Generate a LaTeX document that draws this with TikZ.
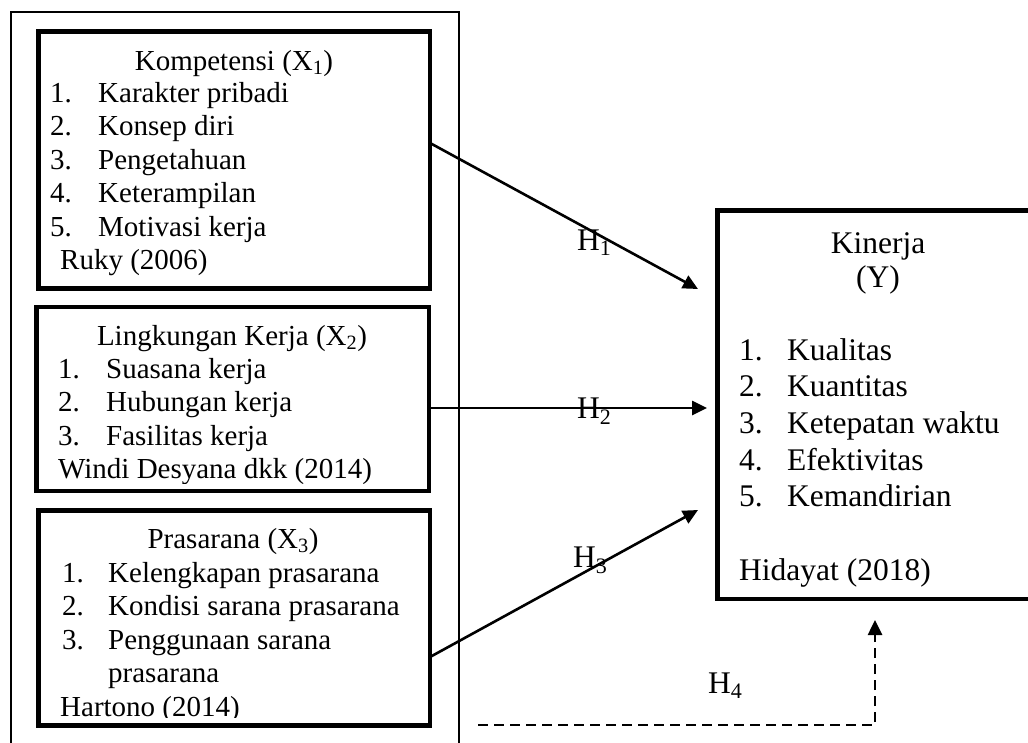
\documentclass[tikz,border=0pt]{standalone}
\usepackage{fontspec}
\setmainfont{Liberation Serif}
\usetikzlibrary{positioning, arrows.meta}

\begin{document}
\begin{tikzpicture}[x=1pt, y=-1pt,
    thickbox/.style={draw, line width=4.5pt, outer sep=0pt, inner sep=0pt, anchor=north west},
    lefttext/.style={inner sep=0pt, font=\fontsize{29}{33.5}\selectfont},
    righttext/.style={inner sep=0pt, font=\fontsize{31.5}{36.7}\selectfont},
    hlabel/.style={inner sep=0pt, anchor=base west, font=\fontsize{31.5}{36}\selectfont}]
    \useasboundingbox (0,0) rectangle (1028,742);

    % Define nodes
    \node[draw, line width=2pt, outer sep=0pt, inner sep=0pt, anchor=north west,
        minimum width=448pt, minimum height=760pt] (Group) at (10.5, 12) {};
    \node[thickbox, minimum width=391.5pt, minimum height=257pt] (Kompetensi) at (38.5, 31.5) {};
    \node[thickbox, minimum width=392.5pt, minimum height=184pt] (Lingkungan) at (36.5, 307) {};
    \node[thickbox, minimum width=391.5pt, minimum height=215pt] (Prasarana) at (38.5, 510.5) {};
    \node[thickbox, minimum width=400pt, minimum height=388.5pt] (Kinerja) at (717.5, 210.5) {};

    % Texts in the boxes
    \node[lefttext, anchor=base] (KompetensiTitle) at (234, 70) {Kompetensi (X\textsubscript{1})};
    \node[lefttext, anchor=base west] (KompetensiList) at (50, 102) {%
        \begin{tabular}[t]{@{}p{48pt}@{}l@{}}
        1. & Karakter pribadi\\
        2. & Konsep diri\\
        3. & Pengetahuan\\
        4. & Keterampilan\\
        5. & Motivasi kerja\\
        \multicolumn{2}{@{\hspace{10pt}}l@{}}{Ruky (2006)}
        \end{tabular}};

    \node[lefttext, anchor=base] (LingkunganTitle) at (232, 345) {Lingkungan Kerja (X\textsubscript{2})};
    \begin{scope}
        \clip (36.5, 350) rectangle (429, 483);
        \node[lefttext, anchor=base west] (LingkunganList) at (58, 378) {%
            \begin{tabular}[t]{@{}p{48pt}@{}l@{}}
            1. & Suasana kerja\\
            2. & Hubungan kerja\\
            3. & Fasilitas kerja\\
            \multicolumn{2}{@{}l@{}}{Windi Desyana dkk (2014)}
            \end{tabular}};
    \end{scope}

    \node[lefttext, anchor=base] (PrasaranaTitle) at (233, 548) {Prasarana (X\textsubscript{3})};
    \begin{scope}
        \clip (38.5, 553) rectangle (430, 717);
        \node[lefttext, anchor=base west] (PrasaranaList) at (62, 582) {%
            \begin{tabular}[t]{@{}p{46pt}@{}l@{}}
            1. & Kelengkapan prasarana\\
            2. & Kondisi sarana prasarana\\
            3. & Penggunaan sarana\\
               & prasarana\\
            \multicolumn{2}{@{\hspace{-2pt}}l@{}}{Hartono (2014)}
            \end{tabular}};
    \end{scope}

    \node[righttext, anchor=base, font=\fontsize{31.5}{34}\selectfont] (KinerjaTitle) at (878, 253) {%
        \begin{tabular}[t]{@{}c@{}}Kinerja\\(Y)\end{tabular}};
    \node[righttext, anchor=base west] (KinerjaList) at (739, 360) {%
        \begin{tabular}[t]{@{}p{48pt}@{}l@{}}
        1. & Kualitas\\
        2. & Kuantitas\\
        3. & Ketepatan waktu\\
        4. & Efektivitas\\
        5. & Kemandirian\\[36.7pt]
        \multicolumn{2}{@{}l@{}}{Hidayat (2018)}
        \end{tabular}};

    % Arrow ends
    \coordinate (TipH1) at (698, 289);
    \coordinate (TipH2) at (707, 408);
    \coordinate (TipH3) at (698, 510);
    \coordinate (StartH4) at (478, 725);
    \coordinate (TipH4) at (875, 620);

    \tikzset{
        hypo/.style={line width=2.6pt, -{Triangle[length=15pt, width=14pt]}},
        hypo dashed/.style={hypo, dash pattern=on 10pt off 6pt}
    }

    % Draw hypotheses
    \draw[hypo] ([yshift=17pt]Kompetensi.east) -- (TipH1);
    \draw[hypo] ([yshift=-9pt]Lingkungan.east) -- (TipH2);
    \draw[hypo] ([yshift=-39pt]Prasarana.east) -- (TipH3);
    \draw[hypo dashed] (StartH4) -| (TipH4);

    \node[hlabel] (LabelH1) at (577, 250) {H\textsubscript{1}};
    \node[hlabel] (LabelH2) at (577, 418) {H\textsubscript{2}};
    \node[hlabel] (LabelH3) at (573, 567) {H\textsubscript{3}};
    \node[hlabel] (LabelH4) at (708, 693) {H\textsubscript{4}};
\end{tikzpicture}
\end{document}
